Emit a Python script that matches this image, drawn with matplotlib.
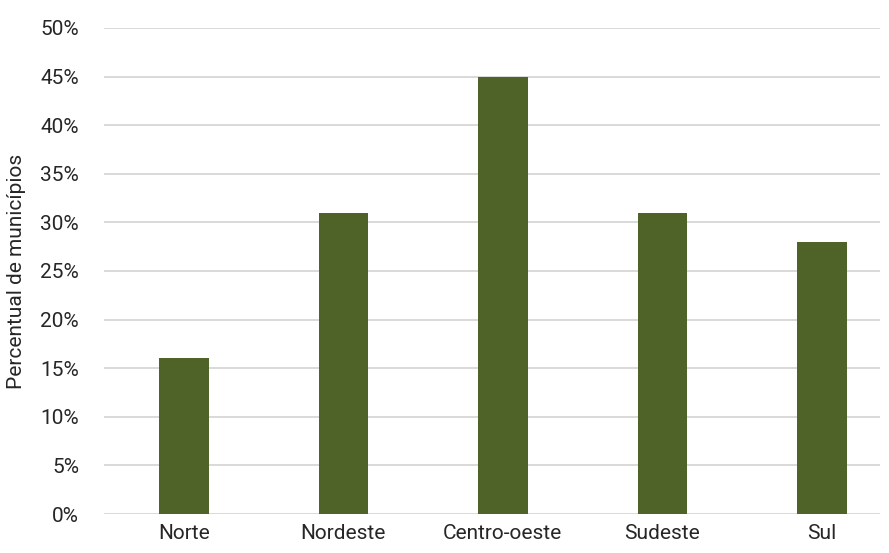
import matplotlib
matplotlib.use("Agg")
import matplotlib.pyplot as plt
from matplotlib.ticker import MultipleLocator, FuncFormatter

regioes = ["Norte", "Nordeste", "Centro-oeste", "Sudeste", "Sul"]
percentuais = [16, 31, 45, 31, 28]

plt.rcParams['font.family'] = ['Roboto', 'DejaVu Sans']

fig = plt.figure(figsize=(8.89, 5.53), dpi=100)
ax = fig.add_axes([0.117, 0.0705, 0.873, 0.879])

ax.bar(range(len(regioes)), percentuais, width=0.31, color="#4f6228", zorder=3)

ax.set_ylim(0, 50)
ax.set_xlim(-0.5, 4.365)
ax.yaxis.set_major_locator(MultipleLocator(5))
ax.yaxis.set_major_formatter(FuncFormatter(lambda v, p: f"{int(v)}%"))
ax.set_xticks(range(len(regioes)))
ax.set_xticklabels(regioes)
ax.grid(axis="y", color="#d9d9d9", linewidth=1.4, zorder=0)
for s in ax.spines.values():
    s.set_visible(False)
ax.tick_params(axis="both", length=0, labelsize=15, colors="#262626")
ax.tick_params(axis="y", pad=18)
ax.tick_params(axis="x", pad=7)
ax.set_ylabel("Percentual de municípios", fontsize=15, color="#262626")
ax.yaxis.set_label_coords(-0.1, 0.5)

fig.savefig("out.png", dpi=100)
